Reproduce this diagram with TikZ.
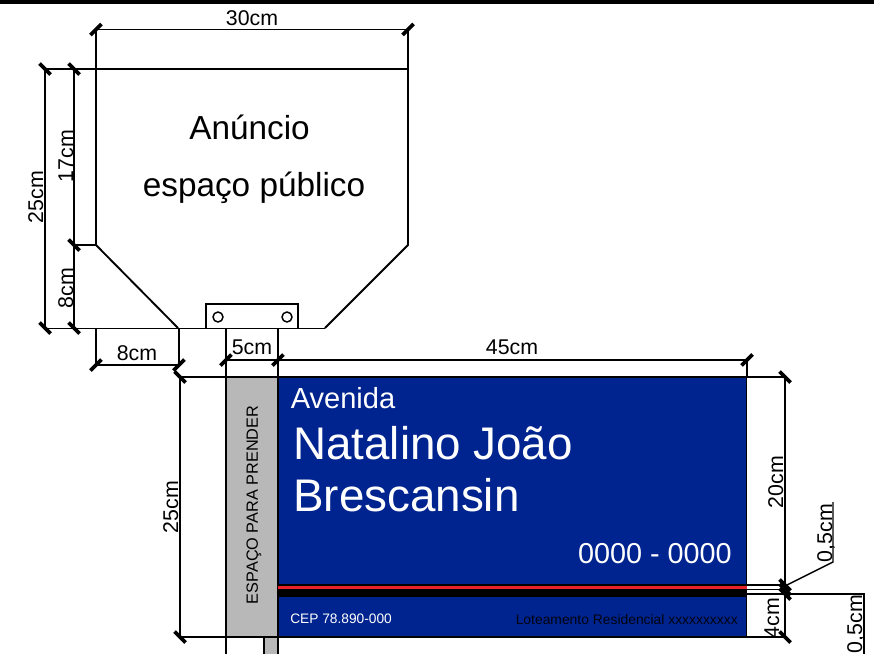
\documentclass[tikz,border=0pt]{standalone}
\usepackage{fontspec}
\setmainfont{Liberation Sans}
\definecolor{placa}{HTML}{00248F}
\definecolor{poste}{HTML}{B8B8B8}
\definecolor{faixa}{HTML}{E8222A}
\tikzset{
    dimline/.style={line width=1.1pt},
    edgeline/.style={line width=1.4pt},
    tickmark/.style={line width=2.7pt},
    dimtext/.style={font=\fontsize{16}{16}\selectfont, inner sep=0pt},
    plate/.style={inner sep=0pt, anchor=base west, text=white}
}
\begin{document}
\begin{tikzpicture}[x=0.75pt, y=-0.75pt]
    \useasboundingbox (0, 0) rectangle (874, 654);
    % top rule
    \draw[line width=2.4pt] (0, 2) -- (874, 2);

    % gray post and blue sign
    \fill[poste] (264, 637) rectangle (278, 654);
    \draw[dimline] (226, 328) -- (226, 654);
    \draw[dimline] (264, 637) -- (264, 654);
    \draw[dimline] (278, 328) -- (278, 377);
    \draw[dimline] (278, 637) -- (278, 654);
    \draw[dimline, fill=poste] (226, 377) rectangle (278, 637);
    \draw[edgeline, fill=placa] (278, 377) rectangle (746.5, 637);
    \fill[black] (278, 583.5) rectangle (746.5, 597);
    \fill[faixa] (278, 585.5) rectangle (746.5, 588.5);

    % advert panel
    \draw[edgeline] (96, 29) -- (96, 245) -- (178, 328);
    \draw[edgeline] (408, 29) -- (408, 245) -- (325, 328);
    \draw[edgeline] (45, 69) -- (408, 69);
    \draw[edgeline] (45, 328.5) -- (325, 328.5);
    \draw[edgeline, fill=white] (206, 304) rectangle (298, 328.5);
    \draw[dimline] (218, 317) circle (5);
    \draw[dimline] (287, 317) circle (5);

    % dimension lines
    \draw[dimline] (96, 29.5) -- (408, 29.5);
    \draw[dimline] (45, 69) -- (45, 328);
    \draw[dimline] (74, 69) -- (74, 328);
    \draw[dimline] (74, 245) -- (96, 245);
    \draw[dimline] (96, 328) -- (96, 365) -- (179, 365) -- (179, 328);
    \draw[dimline] (226, 360) -- (747, 360);
    \draw[dimline] (747, 360) -- (747, 377);
    \draw[dimline] (180, 377) -- (785, 377);
    \draw[dimline] (180, 377) -- (180, 637);
    \draw[dimline] (180, 637) -- (785, 637);
    \draw[dimline] (785, 377) -- (785, 637);
    \draw[dimline] (747, 585) -- (785, 585);
    \draw[dimline] (747, 589.5) -- (785, 589.5);
    \draw[dimline] (747, 594) -- (864, 594) -- (864, 654);
    \draw[dimline] (785, 586) -- (833, 562) -- (833, 502);

    % tick marks
    \foreach \x/\y in {96/29.5, 408/29.5, 96/365, 179/365, 226/360, 278/360, 747/360}
        \draw[tickmark] (\x-5.5, \y+5.5) -- (\x+5.5, \y-5.5);
    \foreach \x/\y in {45/69, 74/69, 74/245, 45/328, 74/328, 180/377, 785/377, 785/585, 785/589.5, 180/637, 785/594, 785/637}
        \draw[tickmark] (\x-5.5, \y-5.5) -- (\x+5.5, \y+5.5);

    % dimension labels
    \node[dimtext, anchor=base] (larguraPainel) at (252, 25) {30cm};
    \node[dimtext, rotate=90, anchor=base] (alturaPainel) at (43, 197) {25cm};
    \node[dimtext, rotate=90, anchor=base] (alturaReta) at (73, 156) {17cm};
    \node[dimtext, rotate=90, anchor=base] (alturaCanto) at (73, 288) {8cm};
    \node[dimtext, anchor=base] (larguraCanto) at (137, 360) {8cm};
    \node[dimtext, anchor=base] (larguraPoste) at (252, 354) {5cm};
    \node[dimtext, anchor=base] (larguraPlaca) at (512, 354) {45cm};
    \node[dimtext, rotate=90, anchor=base] (alturaPlaca) at (178, 507) {25cm};
    \node[dimtext, rotate=90, anchor=base] (alturaAzul) at (783, 482) {20cm};
    \node[dimtext, rotate=90, anchor=base] (alturaBase) at (779, 618) {4cm};
    \node[dimtext, rotate=90, anchor=base] (faixaRubra) at (832, 533) {0,5cm};
    \node[dimtext, rotate=90, anchor=base] (faixaNegra) at (862, 624) {0,5cm};

    % panel and sign text
    \node[inner sep=0pt, font=\fontsize{25}{25}\selectfont] (anuncio) at (249.5, 127) {Anúncio};
    \node[inner sep=0pt, font=\fontsize{25}{25}\selectfont] (espaco) at (254, 188) {espaço público};
    \node[inner sep=0pt, rotate=90, font=\fontsize{12.2}{12.2}\selectfont] (prender) at (254, 505) {ESPAÇO PARA PRENDER};
    \node[plate, font=\fontsize{21.8}{21.8}\selectfont] (tipo) at (290.5, 408) {Avenida};
    \node[plate, font=\fontsize{34.3}{34.3}\selectfont] (nome) at (293, 459) {Natalino João};
    \node[plate, font=\fontsize{34.3}{34.3}\selectfont] (sobrenome) at (293, 511) {Brescansin};
    \node[plate, anchor=base east, font=\fontsize{21.6}{21.6}\selectfont] (numero) at (732, 563) {0000 - 0000};
    \node[plate, font=\fontsize{10.3}{10.3}\selectfont] (cep) at (290, 623) {CEP 78.890-000};
    \node[plate, anchor=base east, text=black!90!placa, font=\fontsize{10.4}{10.4}\selectfont] (loteamento) at (738, 624) {Loteamento Residencial xxxxxxxxxx};
\end{tikzpicture}
\end{document}
